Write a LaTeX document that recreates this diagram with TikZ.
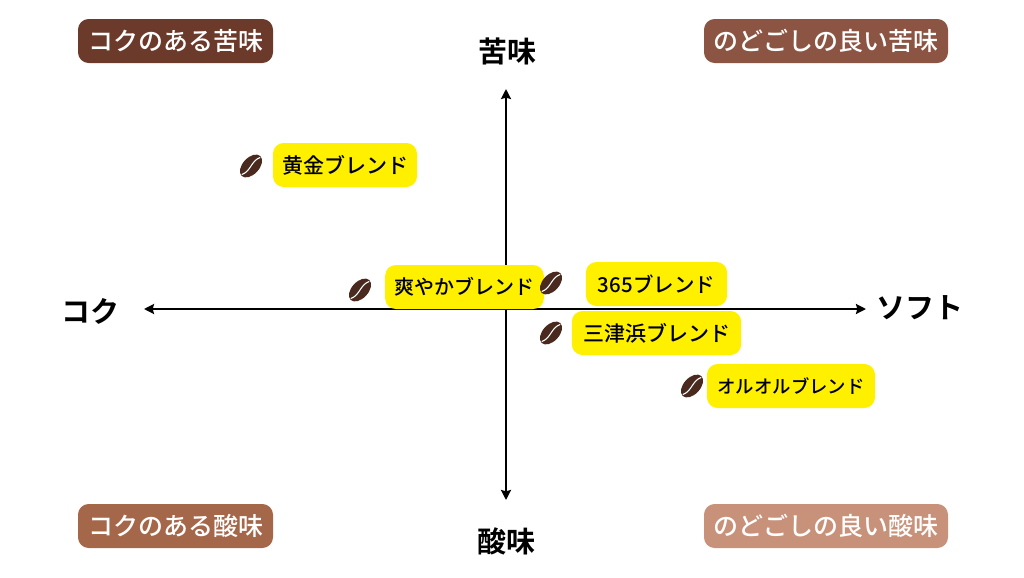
\documentclass[tikz,border=0pt]{standalone}
\usepackage{fontspec}
\setmainfont{Noto Sans CJK JP Medium}[BoldFont={Noto Sans CJK JP Bold}]
\usetikzlibrary{arrows.meta}
\definecolor{beancol}{HTML}{4A2A1E}
\definecolor{qa}{HTML}{6B3A2A}
\definecolor{qb}{HTML}{8C5543}
\definecolor{qc}{HTML}{A5674A}
\definecolor{qd}{HTML}{C8917A}
\definecolor{blendy}{HTML}{FFF000}
\newcommand{\pxf}[1]{\fontsize{\dimexpr#1pt*3/4\relax}{\dimexpr#1pt*3/4\relax}\selectfont}
\newcommand{\dn}[2]{\raisebox{-#1pt}{#2}}
\tikzset{
  x=0.75pt,y=-0.75pt,
  axisline/.style={line width=2.1pt,{Stealth[length=7.5pt,width=7.5pt,inset=1pt]}-{Stealth[length=7.5pt,width=7.5pt,inset=1pt]},black},
  quad/.style={fill=#1,rounded corners=8pt,text=white,inner sep=0pt,minimum height=33pt,anchor=center},
  blend/.style={fill=blendy,rounded corners=8pt,text=black,inner sep=0pt,minimum height=33pt,anchor=center},
  axislabel/.style={font=\pxf{29}\bfseries,text=black,inner sep=0pt,anchor=center},
  pics/bean/.style={code={
    \begin{scope}[rotate=47]
      \fill[beancol] (0,0) ellipse (10.2pt and 6.2pt);
      \draw[white,line width=0.8pt,line cap=round] (-9.2pt,0.6pt) .. controls (-3pt,-2.6pt) and (3pt,2.6pt) .. (9.2pt,-0.6pt);
    \end{scope}
  }},
}
\begin{document}
\begin{tikzpicture}
\useasboundingbox (0,0) rectangle (1024,578);
\fill[white] (0,0) rectangle (1024,578);
\coordinate (L) at (144,309);
\coordinate (R) at (866,309);
\coordinate (T) at (506,89);
\coordinate (B) at (506,500);
\draw[axisline] (L) -- (R);
\draw[axisline] (T) -- (B);
\node[quad=qa,minimum width=146.25pt] (q1) at (175.5,41) {\pxf{25}\dn{1.2}{コクのある苦味}};
\node[quad=qb,minimum width=183pt] (q2) at (826,41) {\pxf{25}\dn{1.2}{のどごしの良い苦味}};
\node[quad=qc,minimum width=146.25pt] (q3) at (175.5,526) {\pxf{25}\dn{1.2}{コクのある酸味}};
\node[quad=qd,minimum width=183pt] (q4) at (826,526) {\pxf{25}\dn{1.2}{のどごしの良い酸味}};
\node[axislabel] (top) at (507,51) {苦味};
\node[axislabel] (bot) at (506,541) {酸味};
\node[axislabel] (lft) at (90,311) {コク};
\node[axislabel] (rgt) at (920,308) {ソフト};
\node[blend,minimum width=108pt] (b1) at (345,165) {\pxf{21}\dn{0.7}{黄金ブレンド}};
\node[blend,minimum width=119pt] (b2) at (464.5,287) {\pxf{20}爽やかブレンド};
\node[blend,minimum width=106pt] (b3) at (656.5,284) {\pxf{20.5}365ブレンド};
\node[blend,minimum width=127pt] (b4) at (656.5,333) {\pxf{21}\dn{0.5}{三津浜ブレンド}};
\node[blend,minimum width=126pt] (b5) at (791,386) {\pxf{18.4}オルオルブレンド};
\pic (s1) at (251,166) {bean};
\pic (s2) at (360,290) {bean};
\pic (s3) at (551,283) {bean};
\pic (s4) at (551,333) {bean};
\pic (s5) at (692,386) {bean};
\end{tikzpicture}
\end{document}
